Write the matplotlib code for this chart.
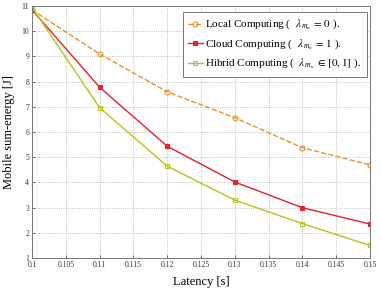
import matplotlib
matplotlib.use("Agg")
import matplotlib.pyplot as plt

latency = [0.10, 0.11, 0.12, 0.13, 0.14, 0.15]
local_energy = [10.85, 9.10, 7.60, 6.57, 5.38, 4.70]
cloud_energy = [10.85, 7.78, 5.44, 4.02, 3.00, 2.35]
hybrid_energy = [10.95, 6.97, 4.65, 3.30, 2.37, 1.50]

xticks = [0.1, 0.105, 0.11, 0.115, 0.12, 0.125, 0.13, 0.135, 0.14, 0.145, 0.15]
xticklabels = ["0.1", "0.105", "0.11", "0.115", "0.12", "0.125", "0.13", "0.135", "0.14", "0.145", "0.15"]
yticks = list(range(1, 12))

labels = [r"Local Computing (  $\lambda_{\,m_n}\,=\,0$ ).",
          r"Cloud Computing (  $\lambda_{\,m_n}\,=\,1$ ).",
          r"Hibrid Computing (  $\lambda_{\,m_n}\,\in\,[0,1]$ )."]

plt.rcParams["font.family"] = ["Liberation Serif", "DejaVu Serif"]
plt.rcParams["mathtext.fontset"] = "stix"

fig = plt.figure(figsize=(3.81, 2.90), dpi=100)
ax = fig.add_axes([0.084, 0.110, 0.887, 0.869])

c_local = "#e8922a"
c_cloud = "#e8202a"
c_hyb = "#b8c418"

ax.plot(latency, local_energy, linestyle="--", color=c_local, lw=1.0,
        marker="o", ms=3.5, mfc="none", mec=c_local, mew=0.8, label=labels[0])
ax.plot(latency, cloud_energy, linestyle="-", color=c_cloud, lw=1.0,
        marker="s", ms=3.5, mfc=c_cloud, mec=c_cloud, mew=0.8, label=labels[1])
ax.plot(latency, hybrid_energy, linestyle="-", color=c_hyb, lw=1.0,
        marker="s", ms=3.5, mfc="none", mec=c_hyb, mew=0.8, label=labels[2])

ax.set_xlim(0.1, 0.15)
ax.set_ylim(1, 11)
ax.set_xticks(xticks)
ax.set_xticklabels(xticklabels)
ax.set_yticks(yticks)
ax.tick_params(labelsize=5.5, direction="in", length=2, width=0.5, pad=2, colors="#333333")
ax.grid(True, linestyle=":", color="#aaaaaa", lw=0.6)
for s in ax.spines.values():
    s.set_color("#777777")
    s.set_linewidth(0.7)

ax.set_xlabel("Latency [s]", fontsize=9, labelpad=5)
ax.set_ylabel("Mobile sum-energy [J]", fontsize=9, labelpad=5)

leg = ax.legend(loc="upper right", bbox_to_anchor=(0.99, 0.975), fontsize=8,
                frameon=True, fancybox=False, edgecolor="#777777", framealpha=1,
                handlelength=1.3, handletextpad=0.2, labelspacing=0.5,
                borderpad=0.5, borderaxespad=0.0)
leg.get_frame().set_linewidth(0.7)

fig.savefig("out.png", dpi=100)
